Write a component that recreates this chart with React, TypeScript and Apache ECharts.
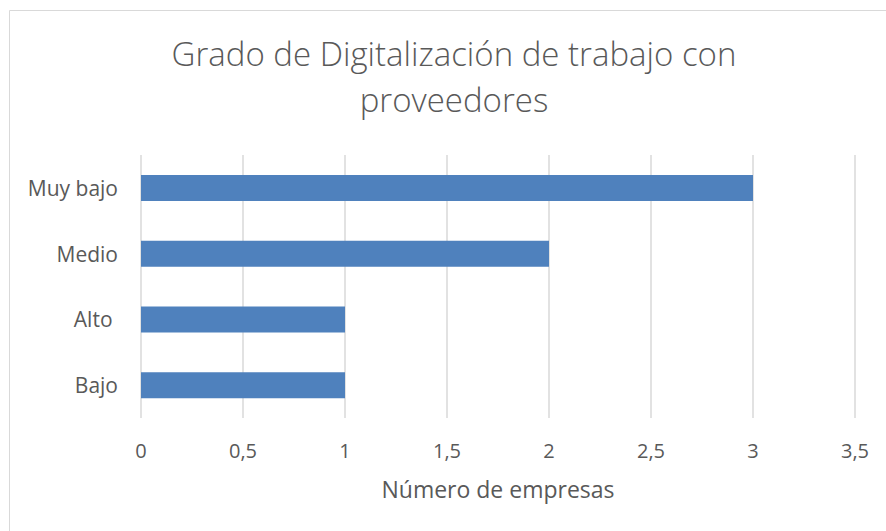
import React, { useEffect, useRef } from "react";
import * as echarts from "echarts";

const categories = ["Bajo", "Alto ", "Medio", "Muy bajo"];
const values = [1, 1, 2, 3];
const titleLines = ["Grado de Digitalización de trabajo con", "proveedores"];
const xAxisName = "Número de empresas";

export default function App() {
  const ref = useRef<HTMLDivElement>(null);
  useEffect(() => {
    document.body.style.margin = "0";
    const chart = echarts.init(ref.current!, null, { renderer: "svg" });
    const font = "'Open Sans', 'Noto Sans', sans-serif";
    chart.setOption({
      animation: false,
      backgroundColor: "#ffffff",
      textStyle: { fontFamily: font },
      graphic: [
        {
          type: "rect",
          shape: { x: 9.5, y: 10.5, width: 900, height: 560 },
          style: { fill: "none", stroke: "#d9d9d9", lineWidth: 1 },
          silent: true,
        },
        {
          type: "text",
          x: 454,
          y: 76,
          style: {
            text: titleLines.join("\n"),
            fontFamily: font,
            fontSize: 33,
            fontWeight: 300,
            lineHeight: 46,
            fill: "#595959",
            align: "center",
            verticalAlign: "middle",
          },
        },
      ],
      grid: { left: 141, right: 31, top: 155, bottom: 113, containLabel: false },
      xAxis: {
        type: "value",
        min: 0,
        max: 3.5,
        interval: 0.5,
        name: xAxisName,
        nameLocation: "middle",
        nameGap: 59,
        nameTextStyle: { color: "#595959", fontSize: 23, fontFamily: font },
        axisLine: { show: false },
        axisTick: { show: false },
        axisLabel: {
          color: "#595959",
          fontSize: 20,
          margin: 22,
          fontFamily: font,
          formatter: (v: number) => String(v).replace(".", ","),
        },
        splitLine: { show: true, lineStyle: { color: "#d9d9d9", width: 1.5 } },
      },
      yAxis: {
        type: "category",
        data: categories,
        axisLine: { show: false },
        axisTick: { show: false },
        axisLabel: { color: "#595959", fontSize: 21, margin: 23, fontFamily: font },
        splitLine: { show: false },
      },
      series: [
        {
          type: "bar",
          data: values,
          barWidth: 26,
          itemStyle: { color: "#4f81bd" },
        },
      ],
    });
    return () => chart.dispose();
  }, []);
  return <div ref={ref} style={{ width: 886, height: 531 }} />;
}
